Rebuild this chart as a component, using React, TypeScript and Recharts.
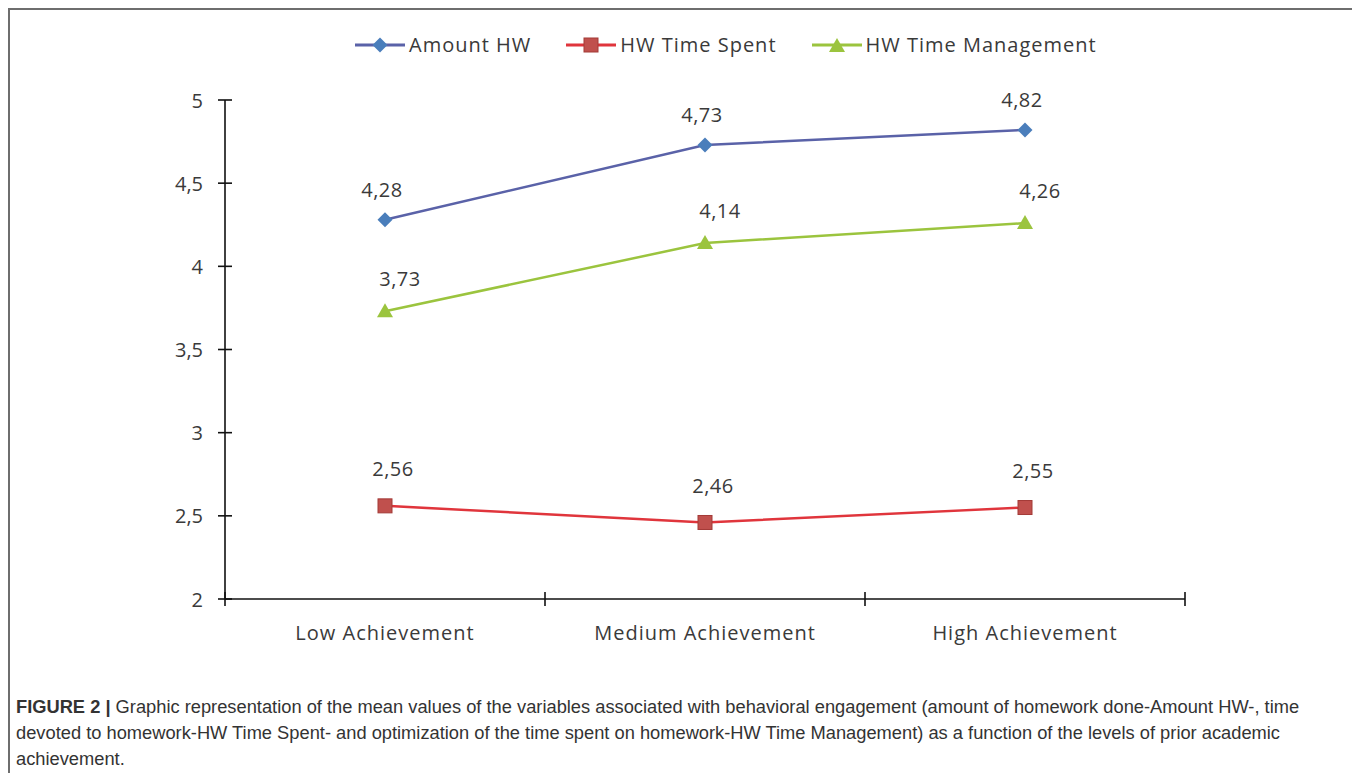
import { LineChart, Line, XAxis, YAxis, LabelList } from "recharts";

const levels = ["Low Achievement", "Medium Achievement", "High Achievement"];
const amountHW = [4.28, 4.73, 4.82];
const timeSpent = [2.56, 2.46, 2.55];
const timeManagement = [3.73, 4.14, 4.26];
const yTicks = [2, 2.5, 3, 3.5, 4, 4.5, 5];

const data = levels.map((level, i) => ({
  level,
  amount: amountHW[i],
  spent: timeSpent[i],
  management: timeManagement[i],
}));

const BLUE_LINE = "#5a62a8";
const BLUE_DOT = "#4a7ebb";
const RED_LINE = "#e0353c";
const RED_DOT = "#c0504d";
const GREEN = "#9bc43e";
const TEXT = "#3a3a3a";
const FONT = "'Open Sans', sans-serif";

const comma = (v: number) => String(v).replace(".", ",");

const Diamond = ({ cx, cy }: any) => (
  <polygon
    points={`${cx},${cy - 7.5} ${cx + 7.5},${cy} ${cx},${cy + 7.5} ${cx - 7.5},${cy}`}
    fill={BLUE_DOT}
  />
);

const Square = ({ cx, cy }: any) => (
  <rect x={cx - 7} y={cy - 7} width={14} height={14} fill={RED_DOT} stroke="#a33a37" strokeWidth={1} />
);

const Triangle = ({ cx, cy }: any) => (
  <polygon points={`${cx},${cy - 8} ${cx + 8},${cy + 6} ${cx - 8},${cy + 6}`} fill={GREEN} />
);

const valueLabel = (dx: number, dy: number) => (props: any) => {
  const { x, y, value } = props;
  return (
    <text x={x + dx} y={y + dy} textAnchor="middle" dominantBaseline="central" fill={TEXT} fontSize={20} fontFamily={FONT} letterSpacing={0.5}>
      {comma(value)}
    </text>
  );
};

const YTick = ({ x, y, payload }: any) => (
  <g>
    <line x1={x - 7} x2={x + 7} y1={y} y2={y} stroke="#111" strokeWidth={1.6} />
    <text x={x - 22} y={y} dominantBaseline="central" textAnchor="end" fill={TEXT} fontSize={20} fontFamily={FONT}>
      {comma(payload.value)}
    </text>
  </g>
);

const HALF_BAND = 160;

const XTick = ({ x, y, payload, index }: any) => (
  <g>
    <line x1={x - HALF_BAND} x2={x - HALF_BAND} y1={y - 7} y2={y + 7} stroke="#111" strokeWidth={1.6} />
    {index === levels.length - 1 && (
      <line x1={x + HALF_BAND} x2={x + HALF_BAND} y1={y - 7} y2={y + 7} stroke="#111" strokeWidth={1.6} />
    )}
    <text x={x} y={y + 33} dominantBaseline="central" textAnchor="middle" fill={TEXT} fontSize={20} fontFamily={FONT} letterSpacing={1}>
      {payload.value}
    </text>
  </g>
);

const legendItems = [
  { name: "Amount HW", color: BLUE_LINE, marker: "diamond" },
  { name: "HW Time Spent", color: RED_LINE, marker: "square" },
  { name: "HW Time Management", color: GREEN, marker: "triangle" },
];

function LegendIcon({ color, marker }: { color: string; marker: string }) {
  return (
    <svg width={50} height={20} style={{ display: "block" }}>
      <line x1={0} x2={50} y1={10} y2={10} stroke={color} strokeWidth={3} />
      {marker === "diamond" && <Diamond cx={25} cy={10} />}
      {marker === "square" && <Square cx={25} cy={10} />}
      {marker === "triangle" && <Triangle cx={25} cy={11} />}
    </svg>
  );
}

export default function App() {
  return (
    <div
      style={{
        position: "relative",
        width: 1344,
        height: 780,
        border: "2px solid #6e6e6e",
        background: "#fff",
      }}
    >
      <div
        style={{
          position: "absolute",
          left: 345,
          top: 21,
          display: "flex",
          alignItems: "center",
          gap: 35,
          fontFamily: FONT,
          fontSize: 20,
          color: TEXT,
          letterSpacing: 1,
        }}
      >
        {legendItems.map((item) => (
          <div key={item.name} style={{ display: "flex", alignItems: "center", gap: 4 }}>
            <LegendIcon color={item.color} marker={item.marker} />
            <span>{item.name}</span>
          </div>
        ))}
      </div>

      <div style={{ position: "absolute", left: 0, top: 0 }}>
        <LineChart width={1340} height={680} data={data} margin={{ top: 90, right: 165, bottom: 31, left: 0 }}>
          <XAxis
            dataKey="level"
            padding={{ left: HALF_BAND, right: HALF_BAND }}
            height={60}
            stroke="#111"
            strokeWidth={1.6}
            tickSize={0}
            tickMargin={0}
            tickLine={false}
            tick={<XTick />}
            interval={0}
          />
          <YAxis
            domain={[2, 5]}
            ticks={yTicks}
            width={215}
            stroke="#111"
            strokeWidth={1.6}
            tickSize={0}
            tickMargin={0}
            tickLine={false}
            tick={<YTick />}
            interval={0}
          />
          <Line
            dataKey="amount"
            stroke={BLUE_LINE}
            strokeWidth={2.5}
            dot={<Diamond />}
            activeDot={false}
            isAnimationActive={false}
          >
            <LabelList dataKey="amount" content={valueLabel(-3, -30)} />
          </Line>
          <Line
            dataKey="spent"
            stroke={RED_LINE}
            strokeWidth={2.5}
            dot={<Square />}
            activeDot={false}
            isAnimationActive={false}
          >
            <LabelList dataKey="spent" content={valueLabel(8, -37)} />
          </Line>
          <Line
            dataKey="management"
            stroke={GREEN}
            strokeWidth={2.5}
            dot={<Triangle />}
            activeDot={false}
            isAnimationActive={false}
          >
            <LabelList dataKey="management" content={valueLabel(15, -33)} />
          </Line>
        </LineChart>
      </div>

      <div
        style={{
          position: "absolute",
          left: 6,
          top: 684,
          fontFamily: "'Liberation Sans', Arial, sans-serif",
          fontSize: 18.3,
          lineHeight: "26px",
          color: "#333",
          whiteSpace: "nowrap",
        }}
      >
        <div>
          <b>FIGURE 2 |</b> Graphic representation of the mean values of the variables associated with behavioral
          engagement (amount of homework done-Amount HW-, time
        </div>
        <div>
          devoted to homework-HW Time Spent- and optimization of the time spent on homework-HW Time Management) as a
          function of the levels of prior academic
        </div>
        <div>achievement.</div>
      </div>
    </div>
  );
}
